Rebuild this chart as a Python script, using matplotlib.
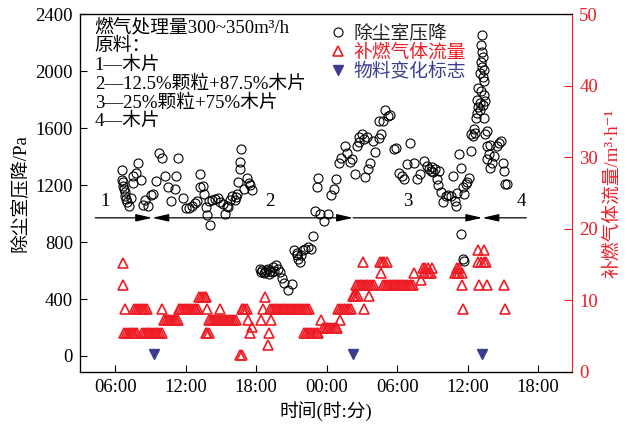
import matplotlib
matplotlib.use('Agg')
import matplotlib.pyplot as plt
from matplotlib.lines import Line2D
from matplotlib.patches import ArrowStyle

plt.rcParams['font.family'] = ['Liberation Serif', 'DejaVu Serif', 'Noto Sans CJK SC']
plt.rcParams['font.size'] = 13.5

# time in hours since 00:00 of day 1
dp_t = [6.54, 6.54, 6.65, 6.65, 6.76, 6.82, 6.87, 6.93, 6.99, 7.13, 7.33, 7.47, 7.52, 7.75, 7.97,
        8.17, 8.40, 8.51, 8.79, 9.02, 9.22, 9.50, 9.72, 10.00, 10.23, 10.51, 10.71, 11.08, 11.19,
        11.36, 11.75, 12.03, 12.26, 12.54, 12.83, 12.97, 13.19, 13.25, 13.47, 13.53, 13.76, 13.81,
        13.96, 14.10, 14.24, 14.52, 14.74, 14.94, 15.14, 15.37, 15.51, 15.59, 15.79, 15.93, 16.16,
        16.27, 16.38, 16.49, 16.64, 16.64, 16.72, 16.92, 17.20, 17.40, 17.50, 17.62,
        18.33, 18.45, 18.53, 18.65, 18.75, 18.85, 18.97, 19.09, 19.20, 19.31, 19.46, 19.55, 19.65,
        19.82, 20.02, 20.16, 20.39, 20.67, 21.06, 21.23, 21.43, 21.51, 21.57, 21.72, 21.85, 22.00,
        22.19, 22.42, 22.65, 22.84, 22.99, 23.18, 23.26, 23.41, 23.77, 24.11, 24.34, 24.62, 24.82,
        25.02, 25.24, 25.53, 25.74, 25.95, 26.14, 26.37, 26.59, 26.71, 26.79, 26.99, 27.16, 27.22,
        27.43, 27.55, 27.72, 27.92, 28.15, 28.43, 28.49, 28.62, 28.77, 28.96, 29.19, 29.42, 29.70,
        29.89, 30.18, 30.37, 30.60, 30.82, 31.11, 31.45, 31.67, 31.95, 32.29, 32.52, 32.72, 32.85,
        32.95, 33.05, 33.20, 33.36, 33.48, 33.56, 33.70, 33.93, 34.13, 34.33, 34.55, 34.78, 34.89,
        34.97, 35.06, 35.26, 35.40, 35.45, 35.60, 35.65, 35.62, 35.73, 35.82, 35.96, 36.10, 36.30,
        36.30, 36.47, 36.53, 36.66, 36.75, 36.80, 36.80, 36.87, 36.87, 37.03, 37.09, 37.09, 37.15,
        37.15, 37.15, 37.23, 37.23, 37.23, 37.31, 37.31, 37.31, 37.37, 37.42, 37.42, 37.42, 37.51,
        37.51, 37.65, 37.65, 37.65, 37.79, 37.93, 37.93, 38.07, 38.22, 38.50, 38.64, 38.84, 39.00,
        39.06, 39.20, 39.34]
dp_v = [1307, 1237, 1219, 1195, 1172, 1149, 1125, 1102, 1079, 1051, 1109, 1214, 1265, 1288, 1358,
        1237, 1060, 1097, 1051, 1130, 1135, 1228, 1423, 1393, 1261, 1184, 1090, 1172, 1261,
        1393, 1109, 1037, 1039, 1051, 1072, 1090, 1277, 1184, 1195, 1137, 1044, 991,
        1090, 921, 1097, 1102, 1107, 1079, 1067, 998, 1056, 1044, 1097, 1125, 1097,
        1114, 1137, 1219, 1311, 1362, 1456, 1172, 1253, 1214, 1200, 1165,
        614, 590, 602, 580, 591, 605, 609, 579, 600, 591, 626, 600, 642,
        614, 591, 544, 509, 463, 502, 742, 707, 725, 684, 660, 707, 742,
        753, 765, 753, 842, 1021, 1184, 1249, 998, 951, 998, 1130, 1172, 1242,
        1353, 1393, 1474, 1428, 1362, 1386, 1277, 1474, 1502, 1540, 1556, 1521, 1254,
        1540, 1311, 1353, 1509, 1432, 1533, 1649, 1556, 1649, 1730, 1683, 1695, 1456,
        1463, 1288, 1265, 1242, 1346, 1493, 1358, 1242, 1277, 1370, 1335, 1311, 1300,
        1330, 1290, 1315, 1242, 1200, 1300, 1149, 1084, 1125, 1130, 1125, 1261, 1090,
        1056, 1144, 1416, 1323, 858, 680, 665, 1184, 1137, 1207, 1219, 1247, 1439,
        1556, 1544, 1591, 1567, 1672, 1707, 1800, 1749, 1881, 1777, 1730, 1986, 1858,
        2067, 2183, 2253, 2137, 2032, 2102, 1962, 1765, 2009, 1928, 1835, 1672, 1788,
        1556, 1579, 1474, 1381, 1416, 1479, 1323, 1358, 1405, 1474, 1493, 1509, 1358,
        1300, 1207, 1207]

flow_t = [6.62, 6.70, 6.85,
          6.75, 6.95, 7.10, 7.25, 7.40, 7.55, 7.70, 7.85,
          7.60, 7.80, 7.95, 8.10, 8.25, 8.40, 8.55, 8.70,
          8.30, 8.45, 8.60, 8.75, 8.90, 9.05, 9.20, 9.35, 9.50, 9.65, 9.80, 9.95,
          10.00,
          10.15, 10.30, 10.45, 10.60, 10.75, 10.90, 11.05, 11.20, 11.35,
          11.40, 11.55, 11.70, 11.85, 12.00, 12.15, 12.30, 12.45, 12.60, 12.75, 12.90, 13.05,
          13.15, 13.30, 13.45, 13.60, 13.75,
          13.80, 13.70, 13.85, 14.00,
          14.00, 14.15, 14.30, 14.45, 14.60, 14.75, 14.90, 15.05, 15.20, 15.35, 15.50, 15.65,
          15.80, 15.95, 16.10, 16.25,
          14.90, 16.60, 16.75, 16.75, 16.90, 17.05, 17.20, 17.30, 17.50, 17.60,
          18.40, 18.60, 18.75, 18.97, 19.10, 19.30,
          19.20, 19.35, 19.50, 19.65, 19.80, 19.95, 20.10, 20.25, 20.40, 20.55, 20.70, 20.85,
          21.00, 21.15, 21.30, 21.45, 21.60, 21.75, 21.90, 22.05, 22.20, 22.35, 22.50,
          22.10, 22.25, 22.40, 22.55, 22.70, 22.85, 23.00, 23.15, 23.30,
          23.50,
          23.70, 23.85, 24.00, 24.15, 24.30, 24.45, 24.60, 24.75, 24.90,
          25.10,
          25.00, 25.15, 25.30, 25.45, 25.60, 25.75, 25.90, 26.05,
          27.20, 26.20, 26.35, 26.50, 26.65, 27.60,
          26.50, 26.65, 26.80, 26.95, 27.10, 27.25, 27.40, 27.55, 27.70, 27.85, 28.00,
          28.80, 28.95, 29.10, 29.25, 29.40, 29.55, 29.70, 29.85, 30.00, 30.15, 30.30, 30.45,
          30.60, 30.75, 30.90, 31.05, 31.20, 31.35,
          28.60, 27.10, 28.50, 28.70, 28.90, 29.10,
          31.40, 32.00, 32.20, 32.40, 32.60, 33.00, 32.30, 32.50, 32.70, 32.90,
          34.90, 35.10, 35.30, 35.50, 35.10, 35.30, 35.50, 35.60,
          36.90, 37.35, 36.85, 37.10, 37.35, 37.60, 36.95, 37.65, 39.07, 39.20]
flow_v = [15.2, 12.2, 8.8,
          5.5, 5.5, 5.5, 5.5, 5.5, 5.5, 5.5, 5.5,
          8.8, 8.8, 8.8, 8.8, 8.8, 8.8, 8.8, 8.8,
          5.5, 5.5, 5.5, 5.5, 5.5, 5.5, 5.5, 5.5, 5.5, 5.5, 5.5, 5.5,
          8.8,
          7.2, 7.2, 7.2, 7.2, 7.2, 7.2, 7.2, 7.2, 7.2,
          8.8, 8.8, 8.8, 8.8, 8.8, 8.8, 8.8, 8.8, 8.8, 8.8, 8.8, 8.8,
          10.5, 10.5, 10.5, 10.5, 10.5,
          8.8, 5.5, 5.5, 5.5,
          7.2, 7.2, 7.2, 7.2, 7.2, 7.2, 7.2, 7.2, 7.2, 7.2, 7.2, 7.2,
          7.2, 7.2, 7.2, 7.2,
          8.8, 2.3, 2.3, 8.8, 8.8, 8.8, 8.8, 7.2, 5.5, 6.3,
          7.2, 8.8, 10.5, 3.8, 5.5, 7.2,
          8.8, 8.8, 8.8, 8.8, 8.8, 8.8, 8.8, 8.8, 8.8, 8.8, 8.8, 8.8,
          8.8, 8.8, 8.8, 8.8, 8.8, 8.8, 8.8, 8.8, 8.8, 8.8, 8.8,
          5.5, 5.5, 5.5, 5.5, 5.5, 5.5, 5.5, 5.5, 5.5,
          7.2,
          6.2, 6.2, 6.2, 6.2, 6.2, 6.2, 6.2, 6.2, 6.2,
          7.2,
          8.8, 8.8, 8.8, 8.8, 8.8, 8.8, 8.8, 8.8,
          8.8, 10.6, 10.6, 10.6, 10.6, 10.6,
          12.2, 12.2, 12.2, 12.2, 12.2, 12.2, 12.2, 12.2, 12.2, 12.2, 12.2,
          12.2, 12.2, 12.2, 12.2, 12.2, 12.2, 12.2, 12.2, 12.2, 12.2, 12.2, 12.2,
          12.2, 12.2, 12.2, 12.2, 12.2, 12.2,
          13.8, 15.4, 15.4, 15.4, 15.4, 15.4,
          13.8, 12.9, 14.5, 14.5, 14.5, 14.5, 13.8, 13.8, 13.8, 13.8,
          13.8, 13.8, 13.8, 13.8, 14.5, 14.5, 12.2, 8.8,
          17.1, 17.1, 15.4, 15.4, 15.4, 15.4, 12.2, 12.2, 12.2, 8.8]

change_t = [9.3, 26.2, 37.2]
change_v = [15, 15, 15]

# material phases (arrow segments) and labels
phase_edges = [4.3, 9.15, 26.25, 37.25, 41.0]
phase_labels = ['1', '2', '3', '4']
phase_label_x = [5.1, 19.2, 30.9, 40.6]

xticks = [6, 12, 18, 24, 30, 36, 42]
xtick_labels = ['06:00', '12:00', '18:00', '00:00', '06:00', '12:00', '18:00']

notes = ['燃气处理量300~350m³/h', '原料：', '1—木片', '2—12.5%颗粒+87.5%木片',
         '3—25%颗粒+75%木片', '4—木片']

red = '#ee1c25'
navy = '#3b3d8f'

fig = plt.figure(figsize=(6.27, 4.28), dpi=100)
ax = fig.add_axes([0.1276, 0.131, 0.785, 0.836])
ax2 = ax.twinx()

ax.plot(dp_t, dp_v, linestyle='none', marker='o', markersize=6.5, markerfacecolor='none',
        markeredgecolor='black', markeredgewidth=0.8)
ax.plot(change_t, change_v, linestyle='none', marker='v', markersize=7.5, color=navy)
ax2.plot(flow_t, flow_v, linestyle='none', marker='^', markersize=7, markerfacecolor='none',
         markeredgecolor=red, markeredgewidth=1.2)

ax.set_xlim(3.0, 44.9)
ax.set_ylim(-112, 2400)
ax2.set_ylim(0, 50)
ax.set_xticks(xticks)
ax.set_xticklabels(xtick_labels)
ax.set_yticks(range(0, 2401, 400))
ax2.set_yticks(range(0, 51, 10))

ax.tick_params(direction='in', length=5, width=0.8, pad=5)
ax2.tick_params(direction='in', length=6, width=0.8, colors=red, pad=5)
ax2.spines['right'].set_color(red)
ax.spines['right'].set_visible(False)
for s in ['left', 'top', 'bottom']:
    ax.spines[s].set_linewidth(0.9)

ax.set_xlabel('时间(时:分)', labelpad=4)
ax.set_ylabel('除尘室压降/Pa', labelpad=4)
ax2.set_ylabel('补燃气体流量/m³·h⁻¹', color=red, labelpad=4)

# phase arrows
arrow_y = 970
styles = ['-|>', '<|-|>', '-|>', '<|-']
for i, st in enumerate(styles):
    ax.annotate('', xy=(phase_edges[i + 1], arrow_y), xytext=(phase_edges[i], arrow_y),
                arrowprops=dict(arrowstyle=ArrowStyle(st, head_length=0.7, head_width=0.16),
                                color='black', lw=0.9, shrinkA=0, shrinkB=0,
                                mutation_scale=14))
for lx, lb in zip(phase_label_x, phase_labels):
    ax.text(lx, 1085, lb, ha='center', va='center')

for i, line in enumerate(notes):
    ax.text(0.03, 0.962 - i * 0.0525, line, transform=ax.transAxes, va='center', ha='left')

handles = [Line2D([], [], linestyle='none', marker='o', markersize=6.5, markerfacecolor='none',
                  markeredgecolor='black', markeredgewidth=0.8),
           Line2D([], [], linestyle='none', marker='^', markersize=7, markerfacecolor='none',
                  markeredgecolor=red, markeredgewidth=1.2),
           Line2D([], [], linestyle='none', marker='v', markersize=7.5, color=navy)]
ax2.legend(handles, ['除尘室压降', '补燃气体流量', '物料变化标志'], loc='upper left',
           bbox_to_anchor=(0.487, 1.0), frameon=False, handlelength=0.8, handletextpad=0.4,
           labelspacing=0.05, borderaxespad=0.2, labelcolor=['#222222', red, navy])

fig.savefig('out.png', dpi=100)
